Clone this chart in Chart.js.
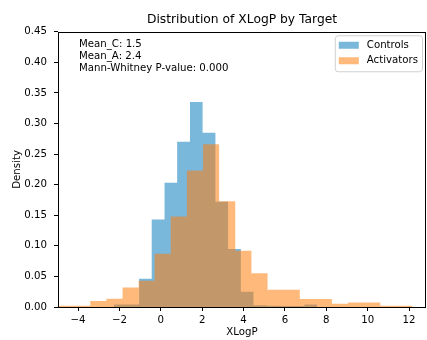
<!DOCTYPE html>
<html>
<head>
<meta charset="utf-8">
<script src="https://cdn.jsdelivr.net/npm/chart.js@4.4.0/dist/chart.umd.min.js"></script>
<style>
  html, body { margin: 0; padding: 0; background: #fff; }
  #wrap { width: 427px; height: 340px; }
</style>
</head>
<body>
<div id="wrap"><canvas id="chart" width="427" height="340"></canvas></div>
<script>
// --- histogram bins (edges) and density per bin ---
const controlsEdges = [-2.28, -1.67, -1.05, -0.44, 0.18, 0.79, 1.41, 2.02, 2.64, 3.25, 3.87, 4.48, 5.10, 5.71, 6.33, 6.94, 7.56];
const controlsDensity = [0.004, 0.004, 0.046, 0.143, 0.203, 0.270, 0.335, 0.285, 0.172, 0.095, 0.025, 0.003, 0.002, 0.0015, 0.0015, 0.004];

const activatorsEdges = [-4.97, -4.19, -3.41, -2.63, -1.85, -1.07, -0.30, 0.48, 1.26, 2.04, 2.82, 3.60, 4.38, 5.16, 5.94, 6.72, 7.49, 8.27, 9.05, 9.83, 10.61, 11.39, 12.17];
const activatorsDensity = [0.002, 0.002, 0.010, 0.0135, 0.032, 0.043, 0.087, 0.148, 0.223, 0.266, 0.173, 0.092, 0.055, 0.028, 0.028, 0.013, 0.013, 0.0055, 0.0075, 0.0075, 0.002, 0.002];

const xTickValues = [-4, -2, 0, 2, 4, 6, 8, 10, 12];
const yTickValues = [0, 0.05, 0.10, 0.15, 0.20, 0.25, 0.30, 0.35, 0.40, 0.45];
const statsLines = ['Mean_C: 1.5', 'Mean_A: 2.4', 'Mann-Whitney P-value: 0.000'];

const FONT = 'DejaVu Sans';

// step outline of a histogram: one point per left edge, plus the last right edge
function stepPoints(edges, dens) {
    const pts = dens.map((d, i) => ({ x: edges[i], y: d }));
    pts.push({ x: edges[edges.length - 1], y: dens[dens.length - 1] });
    return pts;
}

// frame on all four sides, like the matplotlib spines
const framePlugin = {
    id: 'frame',
    afterDatasetsDraw(chart) {
        const { ctx, chartArea: a } = chart;
        ctx.save();
        ctx.strokeStyle = '#000';
        ctx.lineWidth = 1;
        ctx.strokeRect(Math.round(a.left) + 0.5, Math.round(a.top) + 0.5,
            Math.round(a.right - a.left) - 1, Math.round(a.bottom - a.top));
        ctx.restore();
    }
};

// stats text in the upper left and legend box in the upper right
const notesPlugin = {
    id: 'notes',
    afterDraw(chart) {
        const { ctx, chartArea: a } = chart;
        ctx.save();
        ctx.font = `10.2px "${FONT}"`;
        ctx.fillStyle = '#000';
        ctx.textBaseline = 'middle';
        ctx.textAlign = 'left';
        statsLines.forEach((t, i) => ctx.fillText(t, a.left + 21, a.top + 12.5 + i * 12));

        // legend
        const items = chart.data.datasets.map(ds => ({ label: ds.label, color: ds.backgroundColor }));
        const pad = 4, patchW = 20, patchH = 7, gap = 8, rowH = 15.5;
        const textW = Math.max(...items.map(it => ctx.measureText(it.label).width));
        const boxW = pad + patchW + gap + textW + pad;
        const boxH = pad * 2 + rowH * items.length - 3;
        const bx = a.right - 4 - boxW, by = a.top + 3.5;
        ctx.beginPath();
        ctx.roundRect(bx + 0.5, by + 0.5, boxW, boxH, 3);
        ctx.fillStyle = 'rgba(255,255,255,0.8)';
        ctx.fill();
        ctx.strokeStyle = '#d0d0d0';
        ctx.lineWidth = 1;
        ctx.stroke();
        items.forEach((it, i) => {
            const cy = by + 10 + i * rowH;
            ctx.fillStyle = it.color;
            ctx.fillRect(bx + pad, cy - patchH / 2, patchW, patchH);
            ctx.fillStyle = '#000';
            ctx.fillText(it.label, bx + pad + patchW + gap, cy);
        });
        ctx.restore();
    }
};

const chart = new Chart(document.getElementById('chart'), {
    type: 'line',
    data: {
        datasets: [
            {
                label: 'Controls',
                data: stepPoints(controlsEdges, controlsDensity),
                backgroundColor: 'rgba(31,135,195,0.6)',
                borderColor: 'rgba(0,0,0,0)',
                borderWidth: 0,
                fill: 'origin',
                stepped: true,
                pointRadius: 0,
                order: 1
            },
            {
                label: 'Activators',
                data: stepPoints(activatorsEdges, activatorsDensity),
                backgroundColor: 'rgba(255,127,14,0.55)',
                borderColor: 'rgba(0,0,0,0)',
                borderWidth: 0,
                fill: 'origin',
                stepped: true,
                pointRadius: 0,
                order: 0
            }
        ]
    },
    options: {
        responsive: false,
        animation: false,
        events: [],
        layout: { padding: { left: 0, right: 1, top: 0, bottom: 0 } },
        plugins: {
            legend: { display: false },
            tooltip: { enabled: false },
            title: {
                display: true,
                fullSize: false,
                text: 'Distribution of XLogP by Target',
                color: '#000',
                font: { family: FONT, size: 12.3, weight: 'normal' },
                padding: { top: 12, bottom: 5 }
            }
        },
        scales: {
            x: {
                type: 'linear',
                min: -4.97,
                max: 12.82,
                afterBuildTicks: s => { s.ticks = xTickValues.map(v => ({ value: v })); },
                afterFit: s => { s.height = 33; },
                ticks: {
                    color: '#000',
                    font: { family: FONT, size: 10.2 },
                    padding: 3,
                    maxRotation: 0,
                    callback: v => String(v).replace('-', '\u2212')
                },
                grid: { display: true, drawOnChartArea: false, drawTicks: true, tickLength: 4, tickColor: '#000' },
                border: { display: false },
                title: {
                    display: true,
                    text: 'XLogP',
                    color: '#000',
                    font: { family: FONT, size: 10.2 },
                    padding: { top: 0, bottom: 2 }
                }
            },
            y: {
                min: 0,
                max: 0.45,
                afterBuildTicks: s => { s.ticks = yTickValues.map(v => ({ value: v })); },
                afterFit: s => { s.width = 58; },
                ticks: {
                    color: '#000',
                    font: { family: FONT, size: 10.2 },
                    padding: 7,
                    callback: v => v.toFixed(2)
                },
                grid: { display: true, drawOnChartArea: false, drawTicks: true, tickLength: 4, tickColor: '#000' },
                border: { display: false },
                title: {
                    display: true,
                    text: 'Density',
                    color: '#000',
                    font: { family: FONT, size: 10.2 },
                    padding: { top: 11, bottom: 0 }
                }
            }
        }
    },
    plugins: [framePlugin, notesPlugin]
});
</script>
</body>
</html>
